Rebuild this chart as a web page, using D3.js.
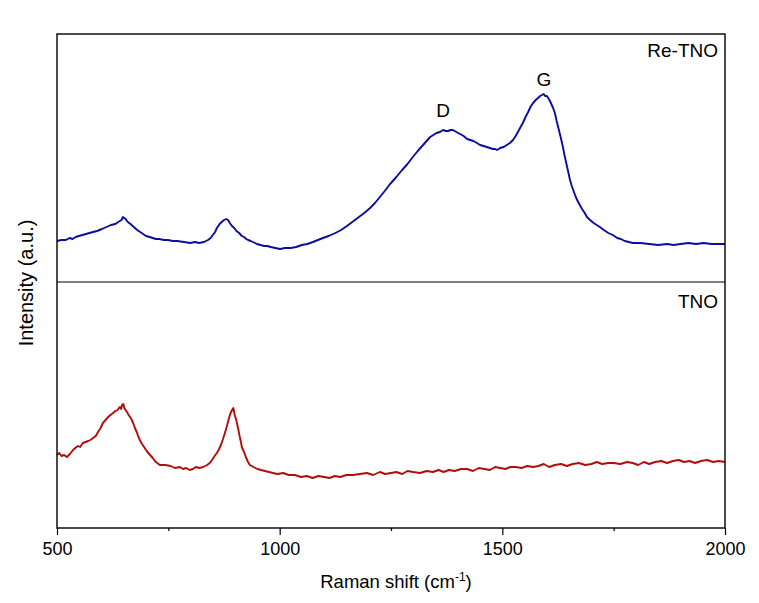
<!DOCTYPE html>
<meta charset="utf-8">
<script src="https://cdn.jsdelivr.net/npm/d3@7"></script>
<style>
body { margin: 0; background: #fff; }
text { font-family: "Liberation Sans", Arial, sans-serif; fill: #000; }
.frame { fill: none; stroke: #000; stroke-width: 1.4px; }
.spec { fill: none; stroke-width: 1.9px; stroke-linejoin: round; }
</style>
<body>
<script>
// Re-TNO (top)
var reShift = [500,510,520,528,535,542,549,557,565,573,581,590,601,611,621,631,641,645,648,651,654,659,665,670,675,680,690,700,708,715,722,730,740,749,760,770,785,799,810,819,830,839,845,850,855,859,865,870,875,880,884,888,893,898,903,909,915,920,925,929,935,940,949,957,965,972,980,990,1001,1012,1025,1037,1050,1062,1075,1086,1097,1110,1125,1138,1151,1163,1175,1190,1203,1214,1225,1236,1248,1262,1275,1287,1299,1310,1320,1330,1338,1345,1352,1360,1367,1373,1378,1384,1389,1397,1405,1413,1421,1428,1435,1443,1450,1458,1465,1472,1479,1484,1488,1492,1495,1503,1510,1517,1524,1530,1535,1541,1546,1552,1558,1563,1569,1575,1580,1585,1589,1593,1596,1600,1603,1607,1610,1614,1618,1622,1627,1632,1636,1640,1644,1648,1652,1656,1660,1664,1668,1674,1679,1685,1690,1697,1705,1712,1719,1728,1738,1748,1758,1766,1775,1784,1793,1810,1830,1850,1870,1885,1900,1918,1935,1952,1970,1985,2000];
var reInt = [41,42,42,44,43,45,46,47,48,49,50,51,53,55,57,58,61,62,65,64,63,60,58,56,54,52,49,46,45,44,43,43,42,42,41,41,40,39,40,39,40,42,44,47,50,54,58,60,62,63,62,59,56,54,51,49,46,45,43,42,41,40,38,37,36,36,35,34,33,34,34,35,37,38,40,42,44,46,49,52,56,60,64,69,74,79,85,91,98,105,112,118,125,131,136,141,145,147,149,150,152,151,151,152,152,150,148,146,143,142,141,139,137,136,135,134,133,133,132,133,134,135,137,139,142,146,150,155,159,165,170,175,179,182,184,186,187,188,186,186,184,181,178,174,169,161,152,143,135,126,118,110,102,96,91,86,82,77,73,69,65,62,59,57,55,52,49,47,44,43,41,40,39,39,38,37,38,37,38,39,38,39,38,38,38];

// TNO (bottom)
var tnoShift = [500,505,510,516,522,529,536,541,547,552,558,564,570,575,581,587,592,598,603,609,615,620,626,631,636,641,644,646,649,651,654,657,661,664,668,671,675,679,683,686,691,697,703,709,715,720,725,731,743,755,765,776,783,790,798,805,812,820,828,837,843,848,854,859,864,868,872,877,881,885,889,893,896,899,902,904,907,910,913,915,920,924,929,933,941,950,958,967,976,985,995,1008,1020,1034,1048,1061,1074,1087,1100,1112,1124,1136,1150,1165,1180,1196,1210,1225,1237,1250,1262,1275,1287,1300,1315,1330,1344,1357,1368,1380,1393,1407,1421,1434,1447,1460,1472,1484,1495,1507,1518,1530,1543,1556,1569,1581,1593,1605,1618,1632,1645,1658,1672,1686,1700,1712,1724,1738,1750,1765,1780,1793,1805,1818,1830,1843,1857,1870,1883,1896,1908,1920,1933,1946,1960,1973,1986,2000];
var tnoInt = [73,75,72,73,71,74,78,80,82,81,85,86,87,88,90,92,96,100,105,108,111,113,115,117,118,121,119,123,124,120,118,116,113,111,108,105,100,96,91,88,84,80,76,73,70,67,65,63,63,62,60,61,59,60,58,59,61,60,61,63,65,68,72,75,79,83,88,95,101,108,114,118,120,113,109,105,99,92,86,81,76,71,66,63,61,59,58,57,56,55,54,55,53,53,51,52,50,52,51,50,52,51,53,53,54,55,53,56,54,55,56,54,57,56,55,57,56,58,56,58,57,59,59,57,60,59,58,61,60,59,61,61,60,62,61,62,64,61,63,64,62,64,65,63,64,66,64,65,65,64,66,65,63,66,64,66,67,65,67,68,66,67,65,67,68,66,67,66,68,67];

var xTicks = [500, 1000, 1500, 2000];
var xMinor = [750, 1250, 1750];

var width = 759, height = 603;
var pLeft = 57, pRight = 725, pTop = 34, pMid = 282, pBottom = 528;

var svg = d3.select("body").append("svg")
    .attr("width", width)
    .attr("height", height);

var x = d3.scaleLinear().domain([500, 2000]).range([pLeft, pRight]);
var yTop = d3.scaleLinear().domain([0, 248]).range([pMid, pTop]);
var yBot = d3.scaleLinear().domain([0, 246]).range([pBottom, pMid]);

function spectrum(xs, ys, y, color) {
  var pts = xs.map(function(d, i) { return [d, ys[i]]; });
  svg.append("path")
      .datum(pts)
      .attr("class", "spec")
      .attr("stroke", color)
      .attr("d", d3.line()
          .x(function(d) { return x(d[0]); })
          .y(function(d) { return y(d[1]); }));
}

spectrum(reShift, reInt, yTop, "#0c0ca0");
spectrum(tnoShift, tnoInt, yBot, "#b20c0c");

// frame + divider
svg.append("rect")
    .attr("class", "frame")
    .attr("x", pLeft).attr("y", pTop)
    .attr("width", pRight - pLeft).attr("height", pBottom - pTop);
svg.append("line")
    .attr("x1", pLeft).attr("x2", pRight)
    .attr("y1", pMid).attr("y2", pMid)
    .attr("stroke", "#000").attr("stroke-width", 1.2);

// x axis
var ax = svg.append("g").attr("transform", "translate(0," + pBottom + ")");
ax.call(d3.axisBottom(x).tickValues(xTicks).tickSize(7).tickFormat(d3.format("d")));
ax.select(".domain").remove();
ax.selectAll("line").attr("stroke-width", 1.2);
ax.selectAll("text")
    .attr("font-size", 18)
    .attr("font-family", "Liberation Sans, Arial, sans-serif")
    .attr("dy", null).attr("y", 27);

var axm = svg.append("g").attr("transform", "translate(0," + pBottom + ")");
axm.call(d3.axisBottom(x).tickValues(xMinor).tickSize(3).tickFormat(""));
axm.select(".domain").remove();
axm.selectAll("line").attr("stroke-width", 1.2);

// labels
svg.append("text")
    .attr("x", 396).attr("y", 588)
    .attr("text-anchor", "middle")
    .attr("font-size", 18.5)
    .html('Raman shift (cm<tspan dy="-7" font-size="12">-1</tspan><tspan dy="7">)</tspan>');

svg.append("text")
    .attr("transform", "translate(33,283) rotate(-90)")
    .attr("text-anchor", "middle")
    .attr("font-size", 20)
    .text("Intensity (a.u.)");

svg.append("text").attr("x", 718).attr("y", 57)
    .attr("text-anchor", "end").attr("font-size", 19).text("Re-TNO");
svg.append("text").attr("x", 718).attr("y", 308)
    .attr("text-anchor", "end").attr("font-size", 19).text("TNO");
svg.append("text").attr("x", 443).attr("y", 117)
    .attr("text-anchor", "middle").attr("font-size", 19).text("D");
svg.append("text").attr("x", 544).attr("y", 86)
    .attr("text-anchor", "middle").attr("font-size", 19).text("G");
</script>
</body>
</html>
